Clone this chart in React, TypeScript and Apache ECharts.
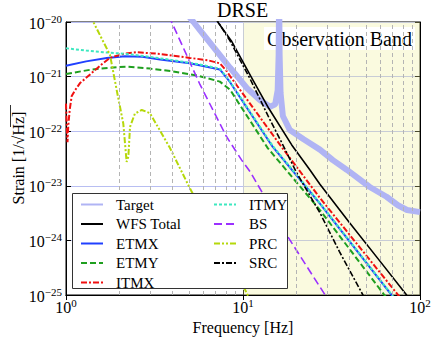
import React, { useEffect, useRef } from "react";
import * as echarts from "echarts";

const FONT = '"Liberation Serif", "Times New Roman", serif';

// axis ranges & ticks
const xLimits = [1, 100];
const yLimits = [1e-25, 1e-20];
const xTickValues = [1, 10, 100];
const yTickValues = [1e-25, 1e-24, 1e-23, 1e-22, 1e-21, 1e-20];
const minorMultipliers = [2, 3, 4, 5, 6, 7, 8, 9];
const xDecades = [1, 10];
const yDecades = [1e-25, 1e-24, 1e-23, 1e-22, 1e-21];
const observationBand = [10, 100];

const legendLeftNames = ["Target", "WFS Total", "ETMX", "ETMY", "ITMX"];
const legendRightNames = ["ITMY", "BS", "PRC", "SRC"];

// [frequency Hz, strain 1/sqrt(Hz)]
const target: [number, number][] = [
  [4.9, 1.32e-20], [5.25, 1.0e-20], [5.71, 7.1e-21], [8.45, 1.45e-21],
  [10.5, 6.2e-22], [12.5, 3.7e-22], [14.2, 2.8e-22], [15.2, 3.1e-22],
  [15.7, 5.6e-22], [15.9, 2.5e-21], [16.0, 3.0e-20], [16.1, 2.5e-21],
  [16.3, 5.0e-22], [16.8, 1.9e-22], [18.4, 1.05e-22], [22, 7.1e-23],
  [27.2, 4.6e-23], [32.2, 2.95e-23], [38.7, 1.95e-23], [52, 9.5e-24],
  [64.7, 6.3e-24], [75, 4.4e-24], [84.5, 3.6e-24], [100, 3.3e-24],
];
const wfsTotal: [number, number][] = [
  [6.8, 1.4e-20], [7.2, 1.0e-20], [8.6, 4.5e-21], [11, 1.05e-21], [14, 2.6e-22],
  [18.85, 5.6e-23], [23.9, 1.95e-23], [27.2, 1.07e-23], [40, 2.1e-24],
  [60, 4.0e-25], [84, 1.0e-25], [90, 7.6e-26],
];
const etmx: [number, number][] = [
  [1.0, 1.58e-21], [1.3, 1.9e-21], [1.7, 2.2e-21], [2.15, 2.35e-21], [2.7, 2.3e-21],
  [3.4, 2.05e-21], [5.0, 1.75e-21], [7.4, 1.35e-21], [8.45, 7.9e-22],
  [14.7, 5.2e-23], [27.2, 4.7e-24], [69.4, 9.8e-26], [75, 7.2e-26],
];
const etmy: [number, number][] = [
  [1.0, 1.12e-21], [1.4, 1.35e-21], [1.97, 1.5e-21], [2.2, 1.52e-21], [2.98, 1.4e-21],
  [4.0, 1.25e-21], [5.5, 1.05e-21], [7.4, 8.1e-22], [8.45, 5.75e-22],
  [13.8, 4.9e-23], [27.2, 3.6e-24], [62.9, 1.0e-25], [68, 7.3e-26],
];
const itmx: [number, number][] = [
  [1.0, 3.2e-22], [1.012, 1.0e-22], [1.02, 6.3e-23], [1.03, 1.26e-22], [1.05, 2.5e-22],
  [1.077, 4.4e-22], [1.124, 5.6e-22], [1.2, 7.6e-22], [1.4, 1.17e-21], [1.6, 1.7e-21],
  [1.77, 2.2e-21], [2.1, 2.6e-21], [2.5, 2.8e-21], [3.4, 2.6e-21], [5.0, 2.2e-21],
  [6.3, 2.0e-21], [7.4, 1.75e-21], [8.09, 1.26e-21], [8.45, 1.02e-21],
  [16.2, 5.6e-23], [27.2, 6.0e-24], [75.2, 1.0e-25], [80, 7.8e-26],
];
const itmy: [number, number][] = [
  [1.0, 3.3e-21], [1.3, 3.0e-21], [1.62, 2.8e-21], [2.2, 2.6e-21], [2.98, 2.3e-21],
  [4.0, 2.0e-21], [5.5, 1.7e-21], [7.4, 1.4e-21], [8.45, 8.1e-22],
  [14.7, 5.4e-23], [27.2, 4.8e-24], [69.4, 1.0e-25], [75, 7.3e-26],
];
const bs: [number, number][] = [
  [3.8, 1.3e-20], [3.95, 1.0e-20], [4.7, 2.9e-21], [5.72, 7.1e-22], [8.08, 7.9e-23],
  [9.83, 2.95e-23], [10.97, 1.82e-23], [17.9, 1.17e-24], [29.1, 1.0e-25], [31, 7.0e-26],
];
const prc: [number, number][] = [
  [1.38, 1.35e-20], [1.427, 1.0e-20], [1.772, 2.5e-21], [1.935, 5.6e-22], [2.107, 1.38e-22],
  [2.2, 2.75e-23], [2.25, 3.4e-23], [2.3, 1.2e-22], [2.45, 2.1e-22], [2.68, 2.45e-22],
  [2.98, 2.14e-22], [3.47, 9.1e-23], [3.87, 4.9e-23], [5.02, 8.9e-24], [10.3, 1.23e-25],
  [11, 7.9e-26],
];
const src: [number, number][] = [
  [7.0, 1.26e-20], [7.4, 8.9e-21], [8.45, 4.5e-21], [11, 8.9e-22], [14, 1.78e-22],
  [16.5, 6.3e-23], [20, 1.78e-23], [27.2, 3.2e-24], [35, 6.3e-25], [47.6, 1.0e-25],
  [52, 5.6e-26],
];

const xMinorGrid = xDecades.flatMap((d) => minorMultipliers.map((m) => m * d));
const yMinorGrid = yDecades.flatMap((d) => minorMultipliers.map((m) => m * d));

const expLabel = (v: number) => {
  const e = Math.round(Math.log10(v));
  const s = e < 0 ? "\u2212" + Math.abs(e) : String(e);
  return "{b|10}{s|" + s + "}";
};

const labelRich = {
  b: { fontFamily: FONT, fontSize: 16, color: "#000", lineHeight: 18, verticalAlign: "bottom" },
  s: { fontFamily: FONT, fontSize: 11, color: "#000", lineHeight: 18, verticalAlign: "top" },
};

function lineSeries(name: string, data: [number, number][], color: string, width: number, type: any, z: number) {
  return {
    name,
    type: "line",
    data,
    symbol: "none",
    showSymbol: false,
    smooth: false,
    clip: true,
    silent: true,
    z,
    itemStyle: { color },
    lineStyle: { color, width, type, cap: "butt" },
    emphasis: { disabled: true },
  };
}

export default function App() {
  const ref = useRef<HTMLDivElement>(null);
  useEffect(() => {
    if (!ref.current) return;
    const chart = echarts.init(ref.current, undefined, { renderer: "svg" });
    const legendCommon = {
      orient: "vertical",
      top: 197,
      itemWidth: 22,
      itemHeight: 14,
      itemGap: 4.5,
      padding: 0,
      selectedMode: false,
      z: 20,
      itemStyle: { opacity: 0 },
      textStyle: { fontFamily: FONT, fontSize: 15, color: "#000", lineHeight: 14, padding: [0, 0, 0, 8] },
    };
    const option: any = {
      animation: false,
      backgroundColor: "#fff",
      title: {
        text: "DRSE",
        left: 217,
        top: 0,
        padding: 0,
        textStyle: { fontFamily: FONT, fontSize: 20, fontWeight: "normal", color: "#000" },
      },
      grid: {
        left: 66, right: 16, top: 22, bottom: 44,
        containLabel: false,
        outerBoundsMode: "none",
        show: true, borderColor: "#000", borderWidth: 1, backgroundColor: "transparent",
      },
      legend: [
        { ...legendCommon, left: 80, data: legendLeftNames },
        { ...legendCommon, left: 213, data: legendRightNames },
      ],
      graphic: [
        {
          type: "rect",
          z: 10,
          shape: { x: 72.5, y: 193.5, width: 215, height: 95 },
          style: { fill: "#fff", stroke: "#333", lineWidth: 1 },
        },
        {
          type: "text",
          z: 10,
          x: 18,
          y: 158,
          rotation: Math.PI / 2,
          style: {
            text: "Strain [1/\u221AHz]",
            font: "16px " + FONT,
            fill: "#000",
            align: "center",
            verticalAlign: "middle",
          },
        },
        {
          type: "line",
          z: 10,
          shape: { x1: 10.5, y1: 105, x2: 10.5, y2: 127 },
          style: { stroke: "#000", lineWidth: 0.8 },
        },
      ],
      xAxis: [
        {
          type: "log",
          logBase: 10,
          min: xLimits[0],
          max: xLimits[1],
          name: "Frequency [Hz]",
          nameLocation: "middle",
          nameGap: 21,
          nameTextStyle: { fontFamily: FONT, fontSize: 16, color: "#000" },
          axisLine: { show: true, lineStyle: { color: "#000", width: 1 } },
          axisTick: { show: true, inside: true, length: 5, lineStyle: { color: "#000" } },
          axisLabel: { formatter: expLabel, rich: labelRich, customValues: xTickValues, margin: 2 },
          splitLine: { show: true, lineStyle: { color: "#b8bef2", width: 1 } },
        },
        {
          type: "log",
          logBase: 10,
          min: xLimits[0],
          max: xLimits[1],
          position: "top",
          axisLine: { show: true, lineStyle: { color: "#000" } },
          axisTick: { show: true, inside: true, length: 5, lineStyle: { color: "#000" } },
          axisLabel: { show: false },
          splitLine: { show: false },
        },
      ],
      yAxis: [
        {
          type: "log",
          logBase: 10,
          min: yLimits[0],
          max: yLimits[1],
          axisLine: { show: true, lineStyle: { color: "#000", width: 1 } },
          axisTick: { show: true, inside: true, length: 5, lineStyle: { color: "#000" } },
          axisLabel: { formatter: expLabel, rich: labelRich, customValues: yTickValues, margin: 4 },
          splitLine: { show: true, lineStyle: { color: "#b8bef2", width: 1 } },
        },
        {
          type: "log",
          logBase: 10,
          min: yLimits[0],
          max: yLimits[1],
          position: "right",
          axisLine: { show: true, lineStyle: { color: "#000" } },
          axisTick: { show: true, inside: true, length: 5, lineStyle: { color: "#000" } },
          axisLabel: { show: false },
          splitLine: { show: false },
        },
      ],
      series: [
        {
          type: "line",
          data: [],
          silent: true,
          z: 1,
          markArea: {
            silent: true,
            itemStyle: { color: "rgba(240,240,150,0.3)" },
            label: {
              show: true,
              position: "insideTopRight",
              distance: 5,
              formatter: "Observation Band",
              fontFamily: FONT,
              fontSize: 20,
              color: "#000",
              backgroundColor: "#fff",
              padding: [2, 3, 1, 3],
            },
            data: [[{ xAxis: observationBand[0] }, { xAxis: observationBand[1] }]],
          },
        },
        {
          type: "line",
          data: [],
          silent: true,
          z: 1.5,
          markLine: {
            silent: true,
            symbol: ["none", "none"],
            label: { show: false },
            lineStyle: { color: "#b4b4b4", width: 1, type: [4, 3] },
            data: [
              ...xMinorGrid.map((v) => ({ xAxis: v })),
              ...yMinorGrid.map((v) => ({ yAxis: v })),
            ],
          },
        },
        lineSeries("Target", target, "#b0b4f4", 6, "solid", 2),
        lineSeries("WFS Total", wfsTotal, "#000000", 1.6, "solid", 3),
        lineSeries("ETMX", etmx, "#2040ff", 2, "solid", 3),
        lineSeries("ETMY", etmy, "#1f9f1f", 2, [6, 3], 3),
        lineSeries("ITMX", itmx, "#f01010", 2, [6, 2, 2, 2], 3),
        lineSeries("ITMY", itmy, "#3de8c0", 2, [3, 2], 3),
        lineSeries("BS", bs, "#9b30ff", 1.6, [8, 4], 3),
        lineSeries("PRC", prc, "#b5d80a", 2, [6, 2, 2, 2, 2, 2], 3),
        lineSeries("SRC", src, "#000000", 1.6, [6, 2, 2, 2], 3),
      ],
    };
    chart.setOption(option);
    return () => chart.dispose();
  }, []);
  return (
    <div
      ref={ref}
      style={{ position: "fixed", left: 0, top: 0, width: 436, height: 339, background: "#fff" }}
    />
  );
}
